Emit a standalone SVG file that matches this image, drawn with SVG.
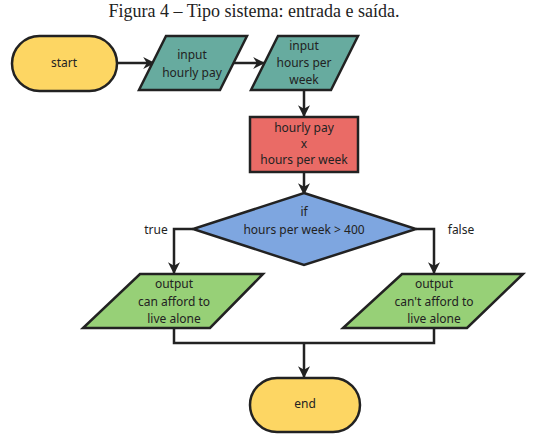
<svg xmlns="http://www.w3.org/2000/svg" width="552" height="436" viewBox="0 0 552 436">
<style>
.n{stroke:#222;stroke-width:2.5}
.t{font-family:"Noto Sans","DejaVu Sans",sans-serif;font-size:12px;fill:#222;text-anchor:middle}
.c{fill:none;stroke:#222;stroke-width:2.5}
.title{font-family:"Liberation Serif","Times New Roman",serif;font-size:18px;fill:#222;text-anchor:middle}
</style>
<defs>
<marker id="ah" viewBox="0 0 10 10" refX="9" refY="5" markerWidth="4.8" markerHeight="4.8" orient="auto" markerUnits="strokeWidth">
<path d="M0,0 L10,5 L0,10 L3,5 Z" fill="#222"/>
</marker>
</defs>
<rect width="552" height="436" fill="#fff"/>
<text class="title" x="254" y="17">Figura 4 – Tipo sistema: entrada e saída.</text>
<g id="connectors">
<path class="c" d="M117,63 H154" marker-end="url(#ah)"/>
<path class="c" d="M233,63 H264" marker-end="url(#ah)"/>
<path class="c" d="M304,90 V116" marker-end="url(#ah)"/>
<path class="c" d="M304,172 V194" marker-end="url(#ah)"/>
<path class="c" d="M193,229 H174 V273" marker-end="url(#ah)"/>
<path class="c" d="M416,229 H434 V273" marker-end="url(#ah)"/>
<path class="c" d="M174,328 V343 H434 V328"/>
<path class="c" d="M304,343 V377" marker-end="url(#ah)"/>
</g>
<text class="t" x="156" y="234">true</text>
<text class="t" x="461" y="234">false</text>
<g id="start">
<rect class="n" x="12" y="36" width="105" height="55" rx="27.5" fill="#FDD663"/>
<text class="t" x="64" y="67">start</text>
</g>
<g id="input-hourly-pay">
<polygon class="n" points="166,36 247,36 220,90 139,90" fill="#67AB9F"/>
<text class="t" x="192" y="59">input</text>
<text class="t" x="192" y="77">hourly pay</text>
</g>
<g id="input-hours-per-week">
<polygon class="n" points="278,36 358,36 331,90 251,90" fill="#67AB9F"/>
<text class="t" x="304" y="50">input</text>
<text class="t" x="304" y="67">hours per</text>
<text class="t" x="304" y="84">week</text>
</g>
<g id="multiply">
<rect class="n" x="250" y="117" width="108" height="55" fill="#EA6B66"/>
<text class="t" x="304" y="132">hourly pay</text>
<text class="t" x="304" y="148">x</text>
<text class="t" x="304" y="164">hours per week</text>
</g>
<g id="decision">
<polygon class="n" points="304,193 416,229 304,265 193,229" fill="#7EA6E0"/>
<text class="t" x="304" y="216">if</text>
<text class="t" x="304" y="234">hours per week &gt; 400</text>
</g>
<g id="output-can">
<polygon class="n" points="140,274 263,274 210,328 83,328" fill="#97D077"/>
<text class="t" x="174" y="288">output</text>
<text class="t" x="174" y="306">can afford to</text>
<text class="t" x="174" y="323">live alone</text>
</g>
<g id="output-cant">
<polygon class="n" points="402,274 523,274 467,328 343,328" fill="#97D077"/>
<text class="t" x="434" y="288">output</text>
<text class="t" x="434" y="306">can't afford to</text>
<text class="t" x="434" y="323">live alone</text>
</g>
<g id="end">
<rect class="n" x="250" y="378" width="110" height="54" rx="27" fill="#FDD663"/>
<text class="t" x="305" y="408">end</text>
</g>
</svg>
